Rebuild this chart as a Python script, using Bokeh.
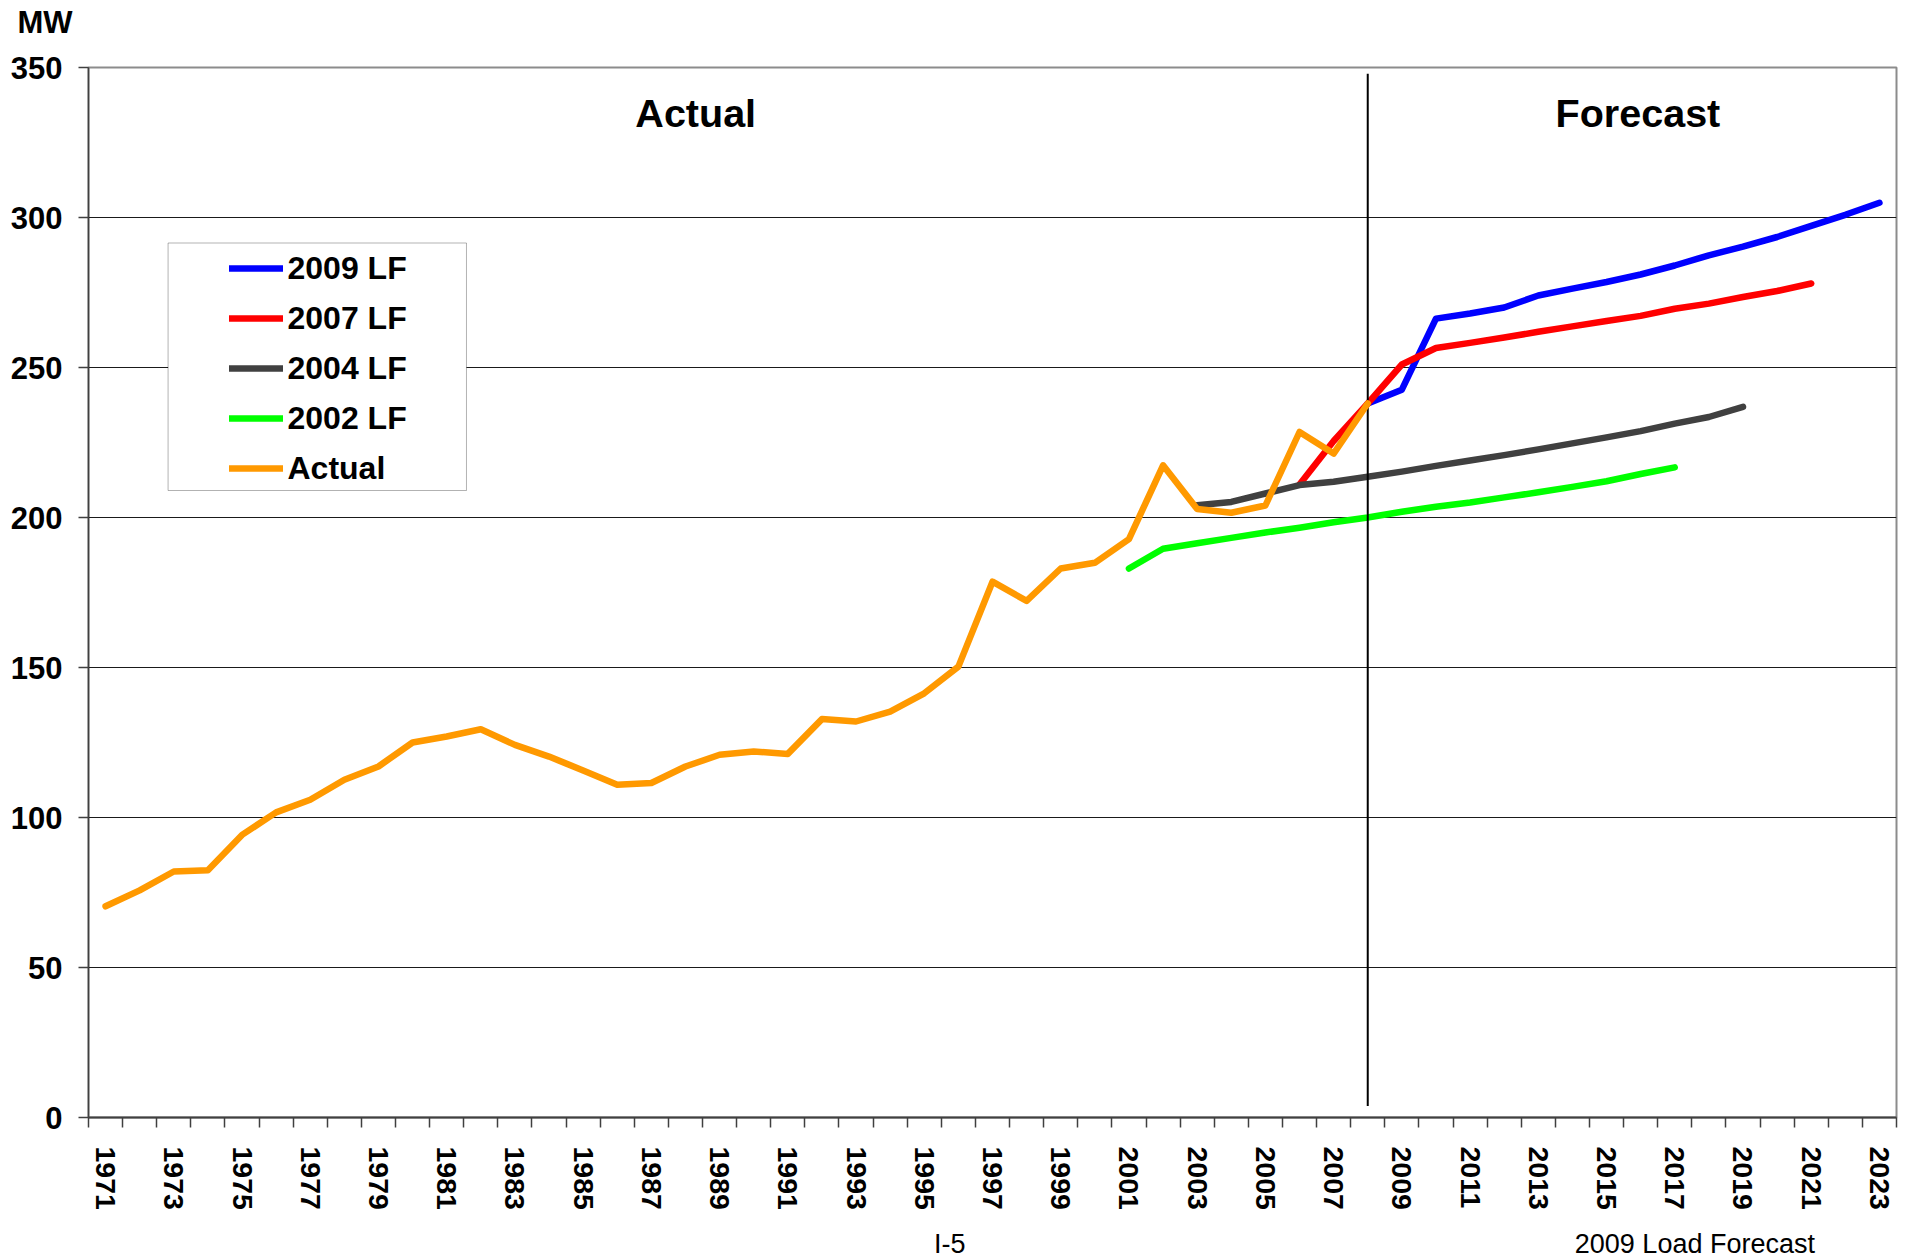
import math
from bokeh.plotting import figure
from bokeh.layouts import column
from bokeh.models import (Range1d, FixedTicker, Label, Legend, LegendItem,
                          BoxAnnotation, LinearAxis)
from bokeh.embed import file_html
from bokeh.resources import INLINE

# ---------------- data ----------------
actual_years = list(range(1971, 2009))
actual = [70.4, 75.7, 82.0, 82.4, 94.2, 101.7, 105.9, 112.6, 117.0, 125.0,
          127.0, 129.4, 124.2, 120.3, 115.7, 110.9, 111.5, 117.0, 120.9, 122.0,
          121.2, 132.8, 132.0, 135.3, 141.4, 150.3, 178.6, 172.2, 183.0, 184.9,
          192.8, 217.4, 202.8, 201.6, 204.0, 228.5, 221.3, 238.0]

lf2009_years = list(range(2008, 2024))
lf2009 = [238.0, 242.6, 266.3, 268.0, 270.0, 274.0, 276.3, 278.5, 281.0, 284.0,
          287.4, 290.3, 293.5, 297.2, 300.9, 304.9]

lf2007_years = list(range(2006, 2022))
lf2007 = [211.0, 225.5, 238.0, 251.0, 256.5, 258.2, 260.0, 261.9, 263.7, 265.5,
          267.2, 269.6, 271.3, 273.5, 275.5, 278.0]

lf2004_years = list(range(2003, 2020))
lf2004 = [204.1, 205.2, 208.0, 210.8, 211.9, 213.6, 215.3, 217.2, 219.0, 220.8,
          222.7, 224.7, 226.7, 228.8, 231.3, 233.5, 236.9]

lf2002_years = list(range(2001, 2018))
lf2002 = [183.0, 189.6, 191.4, 193.2, 195.0, 196.6, 198.4, 200.0, 201.9, 203.6,
          205.0, 206.7, 208.4, 210.2, 212.1, 214.5, 216.7]

first_year, last_year = 1971, 2023
forecast_start = 2008
y_ticks = [0, 50, 100, 150, 200, 250, 300, 350]
x_label_years = list(range(1971, 2024, 2))
footer_texts = ["I-5", "2009 Load Forecast"]
footer_pos = [1995.75, 2017.59]
unit_text = "MW"

FONT = "Liberation Sans"

# ---------- small header strip: its left axis carries the unit label ----------
HEADER_H = 40
unit_pos = 18.5
head = figure(width=400, height=HEADER_H, x_range=Range1d(0, 1),
              y_range=Range1d(0, HEADER_H), output_backend="svg",
              toolbar_location=None, min_border=0, x_axis_location=None)
head.grid.visible = False
head.outline_line_color = None
head.background_fill_color = "white"
head.border_fill_color = "white"
ha = head.yaxis[0]
ha.ticker = FixedTicker(ticks=[unit_pos], minor_ticks=[])
ha.major_label_overrides = {unit_pos: unit_text}
ha.axis_line_color = None
ha.major_tick_line_color = None
ha.minor_tick_line_color = None
ha.major_tick_out = 0
ha.major_tick_in = 0
ha.major_label_standoff = 16
ha.major_label_text_font = FONT
ha.major_label_text_font_style = "bold"
ha.major_label_text_font_size = "31px"
ha.major_label_text_color = "black"

# ---------- main chart ----------
p = figure(frame_width=1808, frame_height=1050,
           x_range=Range1d(first_year - 0.5, last_year + 0.5),
           y_range=Range1d(0, 350),
           output_backend="svg", toolbar_location=None,
           min_border_left=88, min_border_right=6,
           min_border_top=67 - HEADER_H, min_border_bottom=139)
p.background_fill_color = "white"
p.border_fill_color = "white"
p.outline_line_color = "#8c8c8c"
p.outline_line_width = 2

# grid
p.xgrid.visible = False
p.ygrid.ticker = FixedTicker(ticks=y_ticks[1:-1])
p.ygrid.grid_line_color = "#1a1a1a"
p.ygrid.grid_line_width = 1

# x axis: boundary ticks as minor ticks, labels on odd years
boundaries = [y - 0.5 for y in range(first_year, last_year + 2)]
xa = p.xaxis[0]
xa.ticker = FixedTicker(ticks=x_label_years, minor_ticks=boundaries)
xa.major_label_overrides = {y: str(y) for y in x_label_years}
xa.major_tick_line_color = None
xa.major_tick_out = 0
xa.major_tick_in = 0
xa.minor_tick_out = 10
xa.minor_tick_in = 0
xa.minor_tick_line_color = "#404040"
xa.minor_tick_line_width = 1.5
xa.axis_line_color = "#404040"
xa.axis_line_width = 2
xa.major_label_orientation = -math.pi / 2
xa.major_label_standoff = 19
xa.major_label_text_font = FONT
xa.major_label_text_font_style = "bold"
xa.major_label_text_font_size = "28.5px"
xa.major_label_text_color = "black"

# footer texts as a second, bare axis below
fa = LinearAxis(ticker=FixedTicker(ticks=footer_pos, minor_ticks=[]),
                major_label_overrides=dict(zip(footer_pos, footer_texts)))
fa.axis_line_color = None
fa.major_tick_line_color = None
fa.major_tick_out = 0
fa.major_tick_in = 0
fa.major_label_standoff = 16
fa.major_label_text_font = FONT
fa.major_label_text_font_size = "27px"
fa.major_label_text_color = "black"
p.add_layout(fa, "below")

ya = p.yaxis[0]
ya.ticker = FixedTicker(ticks=y_ticks, minor_ticks=[])
ya.major_tick_out = 10
ya.major_tick_in = 0
ya.major_tick_line_color = "#404040"
ya.major_tick_line_width = 1.5
ya.axis_line_color = "#404040"
ya.axis_line_width = 1.5
ya.major_label_standoff = 16
ya.major_label_text_font = FONT
ya.major_label_text_font_style = "bold"
ya.major_label_text_font_size = "31px"
ya.major_label_text_color = "black"

LW = 6.5
style = dict(line_width=LW, line_cap="round", line_join="round")
r09 = p.line(lf2009_years, lf2009, line_color="#0000ff", **style)
r07 = p.line(lf2007_years, lf2007, line_color="#ff0000", **style)
r04 = p.line(lf2004_years, lf2004, line_color="#404040", **style)
r02 = p.line(lf2002_years, lf2002, line_color="#00ff00", **style)
p.segment(x0=[forecast_start], x1=[forecast_start], y0=[3.8], y1=[347.9],
          line_color="black", line_width=2)
ra = p.line(actual_years, actual, line_color="#ff9900", **style)

# legend box + legend
p.add_layout(BoxAnnotation(left=1972.833, right=1981.58, top=291.5, bottom=209.0,
                           fill_color="white", fill_alpha=1.0,
                           line_color="black", line_width=1))
legend = Legend(items=[LegendItem(label="2009 LF", renderers=[r09]),
                       LegendItem(label="2007 LF", renderers=[r07]),
                       LegendItem(label="2004 LF", renderers=[r04]),
                       LegendItem(label="2002 LF", renderers=[r02]),
                       LegendItem(label="Actual", renderers=[ra])],
                location=(140.5, 629), padding=0, spacing=10, margin=0,
                glyph_width=54, glyph_height=40, label_height=40,
                label_standoff=5, border_line_color=None,
                background_fill_alpha=0.0,
                label_text_font=FONT, label_text_font_style="bold",
                label_text_font_size="32px", label_text_color="black")
p.add_layout(legend)

title_style = dict(text_font=FONT, text_font_style="bold", text_font_size="39.5px",
                   text_align="center", text_baseline="middle", text_color="black")
p.add_layout(Label(x=1988.30, y=334.7, text="Actual", **title_style))
p.add_layout(Label(x=2015.92, y=334.7, text="Forecast", **title_style))

layout = column(head, p, spacing=0)
open("out.html", "w").write(file_html(layout, INLINE))
